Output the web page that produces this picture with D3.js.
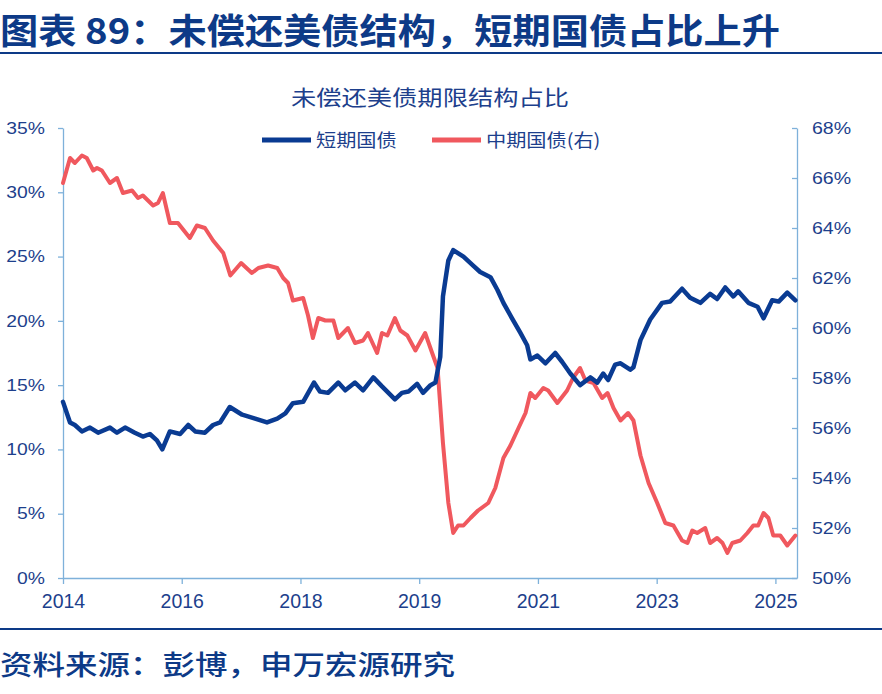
<!DOCTYPE html>
<html>
<head>
<meta charset="utf-8">
<script src="https://cdn.jsdelivr.net/npm/d3@7"></script>
<style>
  body { margin: 0; background: #fff; }
  svg { display: block; }
</style>
</head>
<body>
<svg id="chart" width="882" height="694"></svg>
<script>
// month index (0 = first month of the chart) and share in percent
var shortTerm = [
  [0,13.7],[1.3,12.1],[2.2,11.9],[3.5,11.4],[5.0,11.7],[6.5,11.3],[8.7,11.7],[10.0,11.3],
  [11.5,11.7],[13.3,11.3],[14.8,11.0],[16.1,11.2],[17.4,10.7],[18.4,10.0],[19.8,11.4],[21.7,11.2],
  [23.2,11.9],[24.5,11.4],[26.3,11.3],[27.8,11.9],[29.1,12.1],[30.9,13.3],[33.2,12.7],[35.6,12.4],
  [37.8,12.1],[39.7,12.4],[41.2,12.8],[42.6,13.6],[44.5,13.7],[46.5,15.2],[47.6,14.5],[49.1,14.4],
  [51.0,15.2],[52.3,14.6],[54.1,15.2],[55.6,14.6],[57.5,15.6],[59.1,14.9],[61.5,13.9],[62.8,14.4],
  [64.0,14.5],[65.6,15.1],[66.7,14.4],[68.1,15.0],[69.0,15.2],[69.9,17.2],[70.4,21.9],[71.4,24.7],
  [72.3,25.5],[74.2,25.0],[76.0,24.3],[77.3,23.8],[79.2,23.4],[80.5,22.4],[81.6,21.4],[83.2,20.2],
  [84.7,19.1],[86.0,18.1],[86.6,17.0],[87.9,17.3],[89.4,16.7],[91.2,17.5],[92.5,16.8],[94.0,15.9],
  [95.8,15.0],[97.7,15.6],[99.0,15.2],[100.1,15.9],[101.0,15.4],[102.3,16.6],[103.3,16.7],[105.1,16.2],
  [105.7,16.4],[107.0,18.5],[108.8,20.1],[111.0,21.4],[112.5,21.5],[114.7,22.5],[116.2,21.8],[118.1,21.4],
  [119.9,22.1],[121.2,21.7],[122.7,22.6],[124.2,21.9],[125.1,22.3],[127.0,21.4],[128.7,21.1],[129.8,20.2],
  [131.4,21.6],[132.6,21.5],[134.2,22.2],[135.7,21.6]
];

var midTerm = [
  [0,65.8],[1.3,66.8],[2.2,66.6],[3.5,66.9],[4.4,66.8],[5.6,66.3],[6.3,66.4],[7.2,66.3],
  [8.7,65.8],[10.0,66.0],[11.1,65.4],[12.8,65.5],[13.9,65.2],[14.8,65.3],[16.7,64.9],[17.6,65.0],
  [18.5,65.4],[19.8,64.2],[21.3,64.2],[23.5,63.6],[24.8,64.1],[26.3,64.0],[27.8,63.5],[29.7,63.0],
  [31.0,62.1],[33.0,62.6],[35.0,62.2],[36.2,62.4],[38.0,62.5],[39.7,62.4],[40.8,62.0],[41.7,61.8],
  [42.6,61.1],[44.5,61.2],[45.4,60.5],[46.3,59.6],[47.3,60.4],[48.6,60.3],[50.1,60.3],[51.0,59.6],
  [52.8,60.0],[54.1,59.4],[55.6,59.5],[56.5,59.8],[58.2,59.0],[59.1,59.8],[60.1,59.7],[61.5,60.4],
  [62.5,59.9],[63.8,59.7],[65.3,59.1],[67.1,59.8],[68.4,59.0],[69.4,58.4],[70.4,55.4],[71.4,53.0],
  [72.3,51.8],[73.2,52.1],[74.2,52.1],[75.5,52.4],[76.9,52.7],[78.8,53.0],[80.1,53.6],[81.6,54.8],
  [82.9,55.3],[84.4,56.0],[85.7,56.6],[86.6,57.4],[87.5,57.2],[89.0,57.6],[89.9,57.5],[91.6,57.0],
  [93.4,57.5],[94.5,58.0],[95.8,58.4],[96.8,57.9],[98.3,57.8],[99.9,57.2],[100.9,57.4],[102.0,56.8],
  [103.3,56.3],[104.7,56.6],[105.7,56.3],[107.0,54.9],[108.5,53.8],[110.1,53.0],[111.6,52.2],[113.1,52.1],
  [114.7,51.5],[115.7,51.4],[116.6,51.9],[117.5,51.8],[119.0,52.0],[119.9,51.4],[121.2,51.6],[122.2,51.4],
  [123.1,51.0],[124.0,51.4],[125.5,51.5],[126.8,51.8],[127.9,52.1],[128.8,52.1],[129.8,52.6],[130.7,52.4],
  [131.6,51.7],[132.9,51.7],[134.2,51.3],[135.7,51.7]
];

var xTickIdx = [0, 22, 44, 66, 88, 110, 132];
var xTickLabels = ["2014", "2016", "2018", "2019", "2021", "2023", "2025"];
var leftTicks = [0, 5, 10, 15, 20, 25, 30, 35];
var rightTicks = [50, 52, 54, 56, 58, 60, 62, 64, 66, 68];

var navy = "#0d3a87",
    textBlue = "#1d3f8c",
    axisColor = "#7eb1da",
    blue = "#0a3b92",
    red = "#f0585e";

var svg = d3.select("#chart");
var plotLeft = 63, plotRight = 797, plotTop = 128, plotBottom = 578;

// stretch text horizontally like the reference picture
function widen(sel, k) {
  sel.each(function () {
    var w = this.getComputedTextLength();
    d3.select(this).attr("textLength", w * k).attr("lengthAdjust", "spacingAndGlyphs");
  });
}

// ---------------- header / footer ----------------
svg.append("text")
  .attr("x", 0).attr("y", 44)
  .attr("font-family", "'Noto Sans CJK SC', sans-serif")
  .attr("font-weight", "bold")
  .attr("font-size", 35)
  .attr("fill", navy)
  .attr("textLength", 780).attr("lengthAdjust", "spacingAndGlyphs")
  .text("图表 89：未偿还美债结构，短期国债占比上升");

svg.append("line").attr("x1", 0).attr("x2", 882).attr("y1", 53).attr("y2", 53)
  .attr("stroke", navy).attr("stroke-width", 2);

svg.append("line").attr("x1", 0).attr("x2", 882).attr("y1", 629).attr("y2", 629)
  .attr("stroke", navy).attr("stroke-width", 2);

svg.append("text")
  .attr("x", 0).attr("y", 675)
  .attr("font-family", "'Noto Sans CJK SC', sans-serif")
  .attr("font-weight", 500)
  .attr("font-size", 27)
  .attr("fill", navy)
  .attr("textLength", 455).attr("lengthAdjust", "spacingAndGlyphs")
  .text("资料来源：彭博，申万宏源研究");

svg.append("text")
  .attr("x", 430).attr("y", 105)
  .attr("text-anchor", "middle")
  .attr("font-family", "'Noto Sans CJK SC', sans-serif")
  .attr("font-size", 21)
  .attr("fill", textBlue)
  .attr("textLength", 278).attr("lengthAdjust", "spacingAndGlyphs")
  .text("未偿还美债期限结构占比");

// ---------------- scales ----------------
var x = d3.scaleLinear().domain([0, 136]).range([plotLeft, plotRight]);
var yL = d3.scaleLinear().domain([0, 35]).range([plotBottom, plotTop]);
var yR = d3.scaleLinear().domain([50, 68]).range([plotBottom, plotTop]);

function styleAxis(g) {
  g.selectAll("path, line").attr("stroke", axisColor).attr("stroke-width", 1.3);
  g.selectAll("text").attr("fill", textBlue).attr("font-family", "Arial, 'Liberation Sans', sans-serif");
}

var gx = svg.append("g").attr("transform", "translate(0," + plotBottom + ")")
  .call(d3.axisBottom(x).tickValues(xTickIdx)
    .tickFormat(function (d, i) { return xTickLabels[i]; })
    .tickSizeInner(6).tickSizeOuter(0).tickPadding(10));
styleAxis(gx);
gx.selectAll("text").attr("font-size", 19.5);

var gl = svg.append("g").attr("transform", "translate(" + plotLeft + ",0)")
  .call(d3.axisLeft(yL).tickValues(leftTicks)
    .tickFormat(function (d) { return d + "%"; })
    .tickSizeInner(5).tickSizeOuter(0).tickPadding(13));
styleAxis(gl);
gl.selectAll("text").attr("font-size", 16.5).call(widen, 1.17);

var gr = svg.append("g").attr("transform", "translate(" + plotRight + ",0)")
  .call(d3.axisRight(yR).tickValues(rightTicks)
    .tickFormat(function (d) { return d + "%"; })
    .tickSizeInner(-5).tickSizeOuter(0).tickPadding(15));
styleAxis(gr);
gr.selectAll("text").attr("font-size", 17).call(widen, 1.15);

// ---------------- lines ----------------
var lineL = d3.line().x(function (d) { return x(d[0]); }).y(function (d) { return yL(d[1]); });
var lineR = d3.line().x(function (d) { return x(d[0]); }).y(function (d) { return yR(d[1]); });

svg.append("path").attr("d", lineR(midTerm))
  .attr("fill", "none").attr("stroke", red).attr("stroke-width", 4)
  .attr("stroke-linejoin", "round").attr("stroke-linecap", "round");

svg.append("path").attr("d", lineL(shortTerm))
  .attr("fill", "none").attr("stroke", blue).attr("stroke-width", 4.5)
  .attr("stroke-linejoin", "round").attr("stroke-linecap", "round");

// ---------------- legend ----------------
var legend = [
  { name: "短期国债", color: blue, x: 262 },
  { name: "中期国债(右)", color: red, x: 432 }
];
var lg = svg.selectAll(".legend").data(legend).enter().append("g")
  .attr("transform", function (d) { return "translate(" + d.x + ",140)"; });
lg.append("line").attr("x1", 0).attr("x2", 49).attr("y1", 0).attr("y2", 0)
  .attr("stroke", function (d) { return d.color; }).attr("stroke-width", 5);
lg.append("text").attr("x", 54).attr("y", 7)
  .attr("font-family", "'Noto Sans CJK SC', sans-serif")
  .attr("font-size", 18)
  .attr("fill", textBlue)
  .text(function (d) { return d.name; })
  .call(widen, 1.12);
</script>
</body>
</html>
